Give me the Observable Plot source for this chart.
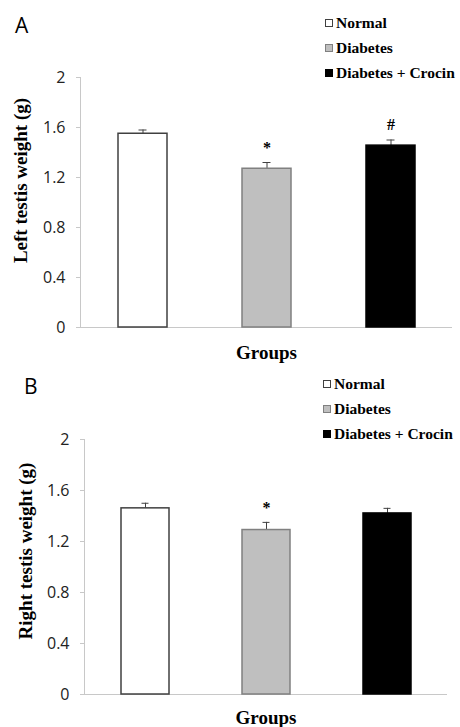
<!DOCTYPE html>
<html>
<head>
<meta charset="utf-8">
<script src="https://cdn.jsdelivr.net/npm/d3@7"></script>
<script src="https://cdn.jsdelivr.net/npm/@observablehq/plot@0.6"></script>
<style>
  html, body { margin: 0; padding: 0; background: #fff; }
  #root { width: 460px; }
  .panel { position: relative; width: 460px; }
  .panel svg { overflow: visible; }
  .letter { position: absolute; font-family: "Open Sans", sans-serif; font-size: 21px; color: #000; line-height: 1; }
  .legend { position: absolute; font-family: "Liberation Serif", "Times New Roman", serif; font-weight: bold; font-size: 15.5px; color: #000; }
  .legend .row { position: absolute; white-space: nowrap; display: flex; align-items: center; height: 20px; }
  .legend .sw { width: 8px; height: 8px; box-sizing: border-box; margin-right: 3px; }
</style>
</head>
<body>
<div id="root"></div>
<script>
const groups = ["Normal", "Diabetes", "Diabetes + Crocin"];
const fills = ["#ffffff", "#bfbfbf", "#000000"];
const strokes = ["#404040", "#808080", "#000000"];
const leftMean = [1.55, 1.27, 1.455];
const leftSE = [0.03, 0.05, 0.045];
const leftSig = ["", "*", "#"];
const rightMean = [1.46, 1.29, 1.42];
const rightSE = [0.04, 0.06, 0.04];
const rightSig = ["", "*", ""];
const yTicks = [0, 0.4, 0.8, 1.2, 1.6, 2];

const serif = "Liberation Serif";

function panel(cfg) {
  const data = groups.map((g, i) => ({
    group: g, mean: cfg.mean[i], se: cfg.se[i], sig: cfg.sig[i],
    fill: fills[i], stroke: strokes[i]
  }));
  const chart = Plot.plot({
    width: 460,
    height: cfg.height,
    marginTop: cfg.mt,
    marginBottom: cfg.mb,
    marginLeft: cfg.ml,
    marginRight: cfg.mr,
    style: { fontFamily: "Open Sans", fontSize: "16px", color: "#222", background: "transparent", overflow: "visible" },
    x: { domain: groups, paddingInner: 0.605, paddingOuter: 0.3025, axis: null },
    y: { domain: [0, 2], axis: null },
    color: { type: "identity" },
    marks: [
      Plot.frame({ anchor: "left", stroke: "#c8c8c8" }),
      Plot.axisY({ ticks: yTicks, tickSize: 4, tickPadding: 11, tickFormat: d => String(d), stroke: "#c8c8c8", label: null, fontSize: 16 }),
      Plot.ruleY([0], { stroke: "#c8c8c8", strokeWidth: 1.2 }),
      Plot.ruleX(data, { x: "group", y1: "mean", y2: d => d.mean + d.se, stroke: "#404040", strokeWidth: 1 }),
      Plot.tickY(data, { x: "group", y: d => d.mean + d.se, stroke: "#404040", strokeWidth: 1, insetLeft: 20.5, insetRight: 20.5 }),
      Plot.barY(data, { x: "group", y: "mean", fill: "fill", stroke: "stroke", strokeWidth: 1.5 }),
      Plot.text(data.filter(d => d.sig), { x: "group", y: d => d.mean + d.se, text: "sig", dy: -15, fontFamily: serif, fontWeight: "bold", fontSize: 16, fill: "#000" }),
      Plot.text([cfg.ylabel], { frameAnchor: "left", textAnchor: "middle", lineAnchor: "middle", rotate: -90, dx: cfg.ldx, dy: cfg.ldy, fontFamily: serif, fontWeight: "bold", fontSize: 19, fill: "#000" }),
      Plot.text(["Groups"], { frameAnchor: "bottom", textAnchor: "middle", lineAnchor: "middle", dy: cfg.gdy, fontFamily: serif, fontWeight: "bold", fontSize: 19, fill: "#000" })
    ]
  });
  const div = document.createElement("div");
  div.className = "panel";
  div.style.height = cfg.height + "px";
  div.appendChild(chart);
  chart.style.display = "block";
  const letter = document.createElement("div");
  letter.className = "letter";
  letter.textContent = cfg.letter;
  letter.style.left = cfg.lx + "px";
  letter.style.top = cfg.ly + "px";
  div.appendChild(letter);
  const leg = document.createElement("div");
  leg.className = "legend";
  leg.style.left = cfg.legx + "px";
  leg.style.top = "0px";
  groups.forEach((g, i) => {
    const row = document.createElement("div");
    row.className = "row";
    row.style.top = (cfg.legy + i * 25 - 10) + "px";
    const sw = document.createElement("span");
    sw.className = "sw";
    sw.style.background = fills[i];
    sw.style.border = "1px solid " + strokes[i];
    row.appendChild(sw);
    const t = document.createElement("span");
    t.textContent = g;
    row.appendChild(t);
    leg.appendChild(row);
  });
  div.appendChild(leg);
  return div;
}

const root = document.getElementById("root");
root.appendChild(panel({
  mean: leftMean, se: leftSE, sig: leftSig, ylabel: "Left testis weight (g)",
  height: 360, mt: 77, mb: 33, ml: 80, mr: 8, ldx: -60, ldy: -22, gdy: 25,
  letter: "A", lx: 15, ly: 15, legx: 325, legy: 23
}));
root.appendChild(panel({
  mean: rightMean, se: rightSE, sig: rightSig, ylabel: "Right testis weight (g)",
  height: 367, mt: 79, mb: 33, ml: 84, mr: 13, ldx: -59, ldy: -16, gdy: 23,
  letter: "B", lx: 24, ly: 16, legx: 323, legy: 24
}));
</script>
</body>
</html>
